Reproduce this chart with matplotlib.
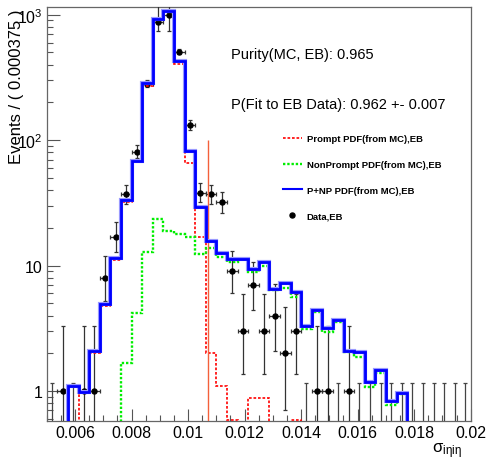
import numpy as np
import matplotlib
matplotlib.use("Agg")
import matplotlib.pyplot as plt
from matplotlib.lines import Line2D

# ---------------- data ----------------
x_lo, x_hi = 0.005, 0.02
n_bins = 40
bin_w = 0.000375

data = [0, 1, 0, 1, 1, 8, 17, 37, 81, 282, 880, 990, 505, 131, 38, 37, 32, 9, 3, 7,
        3, 4, 2, 3, 0, 1, 1, 0, 1, 0, 0, 0, 0, 0, 0, 0, 0, 0, 0, 0]

prompt = [0, 0, 0, 0.97, 2.0, 4.8, 11.0, 32.2, 66.5, 272, 901, 1050, 405, 65.8, 16.9, 2.0,
          1.09, 0.59, 0, 0.88, 0.88, 0, 0, 0.59, 0, 0, 0, 0, 0, 0,
          0, 0, 0, 0, 0, 0, 0, 0, 0, 0]

nonprompt = [0, 0, 0, 0, 0, 0, 0, 1.68, 4.2, 12.8, 23.7, 19.0, 17.9, 16.9, 12.4, 13.8,
             11.7, 10.6, 11.2, 8.9, 10.0, 6.43, 6.6, 5.65, 3.13, 4.25, 2.94, 3.54, 2.04, 1.86,
             1.08, 1.40, 0.77, 0.94, 0, 0, 0, 0, 0, 0]

total = [0, 0, 1.09, 0.985, 2.1, 4.95, 11.4, 33.6, 67.8, 286, 925, 1077, 425, 82.5, 29.1, 15.8,
         12.5, 11.2, 11.3, 9.46, 10.7, 6.56, 7.3, 6.2, 3.28, 4.46, 3.2, 3.68, 2.1, 2.06,
         1.17, 1.47, 0.84, 0.96, 0, 0, 0, 0, 0, 0]

cut_x = 0.0107
cut_top = 100

purity_txt = "Purity(MC, EB): 0.965"
fit_txt = "P(Fit to EB Data): 0.962 +- 0.007"
leg_labels = ["Prompt PDF(from MC),EB", "NonPrompt PDF(from MC),EB",
              "P+NP PDF(from MC),EB", "Data,EB"]

x_ticks = [0.006, 0.008, 0.01, 0.012, 0.014, 0.016, 0.018, 0.02]
x_ticklabels = ["0.006", "0.008", "0.01", "0.012", "0.014", "0.016", "0.018", "0.02"]
y_ticks = [1, 10, 100, 1000]
y_ticklabels = ["1", "10", "$10^{2}$", "$10^{3}$"]
y_lo, y_hi = 0.58, 1146

# ---------------- style ----------------
plt.rcParams["font.family"] = ["Liberation Sans", "DejaVu Sans"]
plt.rcParams["mathtext.fontset"] = "custom"
plt.rcParams["mathtext.rm"] = "Liberation Sans"
plt.rcParams["mathtext.it"] = "Liberation Sans:italic"
plt.rcParams["mathtext.default"] = "regular"

edges = np.linspace(x_lo, x_hi, n_bins + 1)
centers = 0.5 * (edges[:-1] + edges[1:])
data = np.array(data, dtype=float)


def pois_cdf(k, mu):
    terms = [np.exp(-mu)]
    for i in range(1, k + 1):
        terms.append(terms[-1] * mu / i)
    return sum(terms)


def bisect(f, a, b):
    for _ in range(80):
        m = 0.5 * (a + b)
        if f(a) * f(m) <= 0:
            b = m
        else:
            a = m
    return 0.5 * (a + b)


# Poisson (68%) intervals like RooFit
alpha = 0.158655
err_lo, err_hi = [], []
for n in data.astype(int):
    if n == 0:
        err_lo.append(0.0)
        err_hi.append(-np.log(1 - 0.682689))
        continue
    lo = bisect(lambda m: (1 - pois_cdf(n - 1, m)) - alpha, 1e-9, n)
    hi = bisect(lambda m: pois_cdf(n, m) - alpha, n, n + 10 * np.sqrt(n) + 10)
    err_lo.append(n - lo)
    err_hi.append(hi - n)
err_lo = np.array(err_lo)
err_hi = np.array(err_hi)


def floor(v):
    v = np.array(v, dtype=float)
    return np.where(v > 0, v, 1e-3)


fig = plt.figure(figsize=(4.9, 4.6), dpi=100)
ax = fig.add_axes([46.7 / 490, 1 - 421.7 / 460, 424 / 490, 413.4 / 460])
ax.set_yscale("log")

# data points
filled = data > 0
ax.errorbar(centers[filled], data[filled], xerr=bin_w / 2,
            yerr=[err_lo[filled], err_hi[filled]], fmt="o", ms=3.6,
            color="black", ecolor="#333333", elinewidth=0.9, capsize=1.6,
            capthick=0.9, zorder=3)
empty = ~filled
ax.errorbar(centers[empty], np.full(empty.sum(), 1e-3), yerr=[np.zeros(empty.sum()), err_hi[empty]],
            fmt="none", ecolor="#444444", elinewidth=0.9, capsize=1.6, capthick=0.9, zorder=3)

# pdf curves
ax.stairs(floor(prompt), edges, baseline=None, color="#ff0000", lw=1.2,
          linestyle=(0, (1.6, 1.1)), zorder=4)
ax.stairs(floor(nonprompt), edges, baseline=None, color="#00ee00", lw=1.7,
          linestyle=(0, (1.0, 0.8)), zorder=4)
ax.stairs(floor(total), edges, baseline=None, color="#9999ff", lw=3.0, zorder=5)
ax.stairs(floor(total), edges, baseline=None, color="#0000ff", lw=2.0, zorder=6)

ax.vlines(cut_x, y_lo, cut_top, color="#f4603a", lw=1.0, zorder=4)

ax.set_xlim(x_lo, x_hi)
ax.set_ylim(y_lo, y_hi)

ax.set_xticks(x_ticks)
ax.set_xticklabels(x_ticklabels)
ax.set_xticks(np.arange(x_lo, x_hi + 1e-9, 0.0005), minor=True)
ax.set_yticks(y_ticks)
ax.set_yticklabels(y_ticklabels)
ax.yaxis.set_minor_locator(matplotlib.ticker.LogLocator(base=10, subs=np.arange(2, 10)))
ax.yaxis.set_minor_formatter(matplotlib.ticker.NullFormatter())
ax.tick_params(which="both", direction="in", top=False, right=False,
               color="#555555", labelsize=11.5, width=0.8)
ax.tick_params(which="major", length=9, pad=3)
ax.tick_params(which="minor", length=4.5)

for s in ax.spines.values():
    s.set_color("#666666")
    s.set_linewidth(0.9)

# texts
ax.text(0.4347, 0.887, purity_txt, transform=ax.transAxes, fontsize=10.5, va="center")
ax.text(0.4347, 0.766, fit_txt, transform=ax.transAxes, fontsize=10.5, va="center")

fig.text(17 / 490, 1 - 9 / 460, "Events / ( 0.000375 )", rotation=90,
         ha="center", va="top", fontsize=12)
fig.text(462 / 490, 1 - 451 / 460, r"$\sigma_{i\eta i\eta}$", ha="right",
         va="center", fontsize=12)

handles = [
    Line2D([], [], color="#ff0000", lw=1.2, linestyle=(0, (1.6, 1.1))),
    Line2D([], [], color="#00ee00", lw=1.7, linestyle=(0, (1.0, 0.8))),
    Line2D([], [], color="#0000ff", lw=1.5),
    Line2D([], [], color="black", marker="o", ms=3.6, ls="none"),
]
leg = ax.legend(handles, leg_labels, loc="upper left",
                bbox_to_anchor=(283 / 490, 1 - 135 / 460),
                bbox_transform=fig.transFigure, frameon=False,
                prop={"weight": "bold", "size": 6.8}, handlelength=2.0,
                handletextpad=0.5, labelspacing=1.78, borderpad=0,
                borderaxespad=0, numpoints=1)

fig.savefig("out.png", dpi=100)
